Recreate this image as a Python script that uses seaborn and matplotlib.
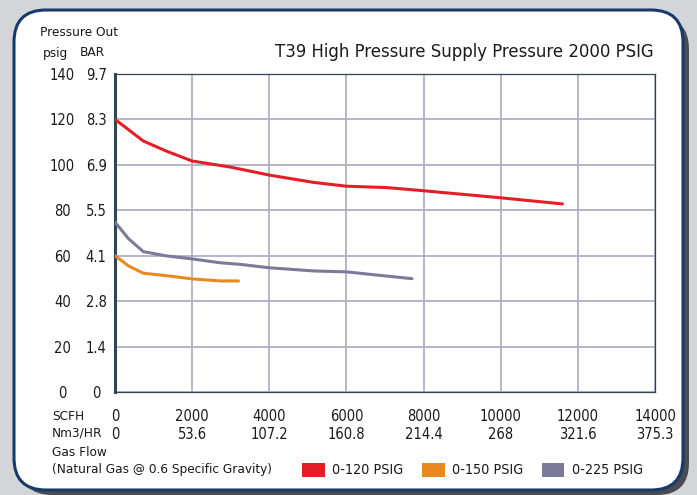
import matplotlib
matplotlib.use("Agg")
import matplotlib.pyplot as plt
from matplotlib.patches import FancyBboxPatch, Patch
import pandas as pd
import seaborn as sns

# curve data (flow in SCFH, pressure in psig)
red_flow = [0, 350, 734, 1340, 2000, 3000, 4000, 5140, 6000, 7045, 8000, 10000, 11600]
red_psig = [120, 115.5, 110.5, 106, 101.7, 99, 95.5, 92.3, 90.6, 90.0, 88.6, 85.5, 82.8]

purple_flow = [0, 350, 734, 1340, 2000, 2720, 3240, 4000, 5140, 6000, 6950, 7700]
purple_psig = [74.8, 67.5, 61.8, 59.9, 58.6, 56.9, 56.2, 54.7, 53.3, 52.9, 51.2, 49.9]

orange_flow = [0, 350, 734, 1340, 2000, 2720, 3200]
orange_psig = [60, 55.5, 52.3, 51.2, 49.8, 48.9, 48.9]

series_names = ["0-120 PSIG", "0-150 PSIG", "0-225 PSIG"]
series_colors = ["#e31e26", "#e8891e", "#7b7a99"]

psig_ticks = [0, 20, 40, 60, 80, 100, 120, 140]
bar_labels = ["0", "1.4", "2.8", "4.1", "5.5", "6.9", "8.3", "9.7"]
scfh_ticks = [0, 2000, 4000, 6000, 8000, 10000, 12000, 14000]
nm3_labels = ["0", "53.6", "107.2", "160.8", "214.4", "268", "321.6", "375.3"]

df = pd.concat([
    pd.DataFrame({"flow": red_flow, "psig": red_psig, "series": series_names[0]}),
    pd.DataFrame({"flow": orange_flow, "psig": orange_psig, "series": series_names[1]}),
    pd.DataFrame({"flow": purple_flow, "psig": purple_psig, "series": series_names[2]}),
])

sns.set_style("white")
plt.rcParams["font.family"] = ["DejaVu Sans"]
plt.rcParams["font.stretch"] = "condensed"
FS = 10.5   # tick numbers
LFS = 9.7   # other labels
TXT = "#1a1a1a"

fig = plt.figure(figsize=(6.97, 4.95), dpi=100, facecolor="#d3d5d8")

# rounded white panel with shadow, behind the axes
shadow = FancyBboxPatch((0.20, 0.0), 6.69, 4.78, boxstyle="round,pad=0,rounding_size=0.32",
                        transform=fig.dpi_scale_trans, facecolor="#4a4c50", edgecolor="none", zorder=-2)
panel = FancyBboxPatch((0.14, 0.05), 6.69, 4.80, boxstyle="round,pad=0,rounding_size=0.32",
                       transform=fig.dpi_scale_trans, facecolor="white", edgecolor="#163a6b",
                       linewidth=2.2, zorder=-1)
fig.patches.extend([shadow, panel])

ax = fig.add_axes([115 / 697, 1 - 392 / 495, 540 / 697, 318 / 495])
ax.set_zorder(2)
ax.set_facecolor("white")

sns.lineplot(data=df, x="flow", y="psig", hue="series", palette=series_colors,
             hue_order=series_names, sort=False, linewidth=2.2, legend=False, ax=ax, zorder=3)

ax.set_xlim(0, 14000)
ax.set_ylim(0, 140)
ax.grid(True, color="#aaaac4", linewidth=1.2)
for side in ["top", "right", "bottom"]:
    ax.spines[side].set_color("#2b4656")
    ax.spines[side].set_linewidth(0.9)
ax.spines["left"].set_color("#2b4656")
ax.spines["left"].set_linewidth(2.2)

ax.set_xticks(scfh_ticks, labels=[f"{s}\n{n}" for s, n in zip(scfh_ticks, nm3_labels)])
ax.set_yticks(psig_ticks, labels=[str(p) for p in psig_ticks])
ax.tick_params(axis="x", length=0, pad=12, labelsize=FS, labelcolor=TXT)
ax.tick_params(axis="y", length=0, pad=38, labelsize=FS, labelcolor=TXT)
for lab in ax.get_yticklabels():
    lab.set_ha("center")
for lab in ax.get_xticklabels():
    lab.set_linespacing(1.25)
ax.set_xlabel("")
ax.set_ylabel("")

ax2 = ax.twinx()
ax2.set_ylim(0, 140)
ax2.yaxis.tick_left()
ax2.set_yticks(psig_ticks, labels=bar_labels)
ax2.tick_params(axis="y", length=0, pad=13.5, labelsize=FS, labelcolor=TXT)
for lab in ax2.get_yticklabels():
    lab.set_ha("center")
for s in ax2.spines.values():
    s.set_visible(False)

fig.text(40 / 697, 1 - 33 / 495, "Pressure Out", fontsize=LFS, color=TXT, va="center", ha="left")
fig.text(43 / 697, 1 - 53 / 495, "psig", fontsize=LFS, color=TXT, va="center", ha="left")
fig.text(80 / 697, 1 - 53 / 495, "BAR", fontsize=LFS, color=TXT, va="center", ha="left")
fig.text(654 / 697, 1 - 52 / 495, "T39 High Pressure Supply Pressure 2000 PSIG",
         fontsize=13.2, color=TXT, va="center", ha="right")

fig.text(52 / 697, 1 - 425 / 495, "SCFH\nNm3/HR", fontsize=LFS, color=TXT, va="center",
         ha="left", linespacing=1.35)
fig.text(52 / 697, 1 - 452 / 495, "Gas Flow", fontsize=LFS, color=TXT, va="center", ha="left")
fig.text(52 / 697, 1 - 470 / 495, "(Natural Gas @ 0.6 Specific Gravity)", fontsize=LFS,
         color=TXT, va="center", ha="left")

handles = [Patch(facecolor=c, edgecolor="none", label=n) for n, c in zip(series_names, series_colors)]
fig.legend(handles=handles, loc="center left", bbox_to_anchor=(302 / 697, 1 - 470 / 495),
           ncol=3, frameon=False, fontsize=10.3, handlelength=1.6, handleheight=1.15,
           handletextpad=0.5, columnspacing=1.3, labelcolor=TXT, borderpad=0,
           borderaxespad=0)

fig.savefig("out.png", dpi=100, facecolor=fig.get_facecolor())
